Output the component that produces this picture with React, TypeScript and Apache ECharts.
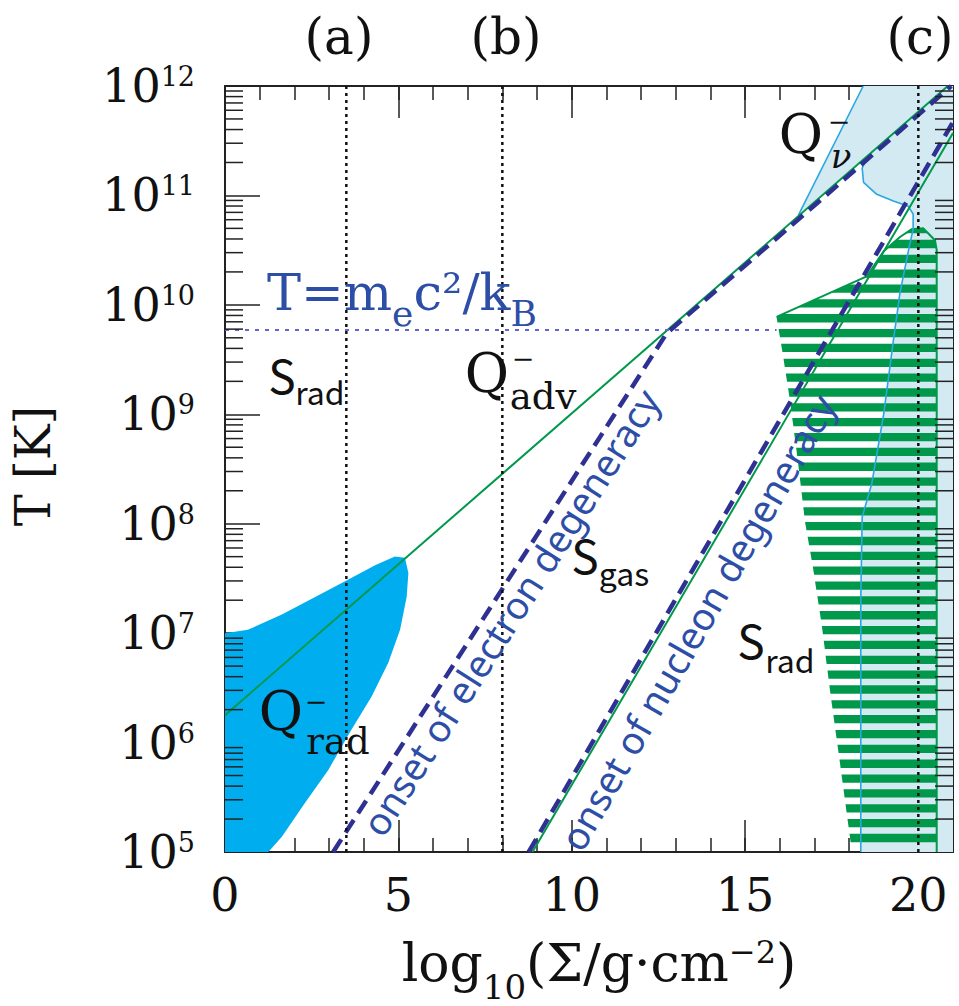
import React, { useEffect, useRef } from 'react';
import * as echarts from 'echarts';

// ---------- data (x = log10 Σ, y = log10 T) ----------
const xMajorTicks = [0, 5, 10, 15, 20];
const yDecades = [5, 6, 7, 8, 9, 10, 11, 12];
const refLinesX = [3.5, 8, 20];
const refLineLabels = ['(a)', '(b)', '(c)'];
const pairTempLog = 9.77; // T = m_e c^2 / k_B
const pairLineEndX = 15.91;

const advLine = [[0, 6.25], [20.85, 12]];
const electronDeg = [[3.12, 5], [12.74, 9.74], [16.5, 10.77], [20.95, 12]];
const nucleonDeg = [[8.76, 5], [21, 11.67]];
const nucleonGreen = [[8.87, 5], [21, 11.57]];

const radRegion = [
  [0, 5], [0, 7.0], [0.66, 7.03], [1.64, 7.17], [2.6, 7.33], [3.56, 7.49], [4.33, 7.62],
  [4.9, 7.7], [5.19, 7.69], [5.29, 7.55], [5.24, 7.33], [5.05, 7.03], [4.71, 6.73],
  [4.23, 6.42], [3.65, 6.12], [2.98, 5.75], [2.31, 5.45], [1.64, 5.14], [1.25, 5.0],
];

const nuUpperEdge = [[16.54, 10.82], [18.41, 12]];
const nuLobeEdge = [
  [18.56, 11.37], [18.38, 11.25], [18.42, 11.12], [18.8, 11.01], [19.28, 10.95], [19.71, 10.9],
  [19.85, 10.83], [19.85, 10.69], [19.75, 10.55], [19.47, 10.11], [19.27, 9.65], [19.0, 9.0],
  [18.66, 8.37], [18.38, 8.06], [18.34, 7.3], [18.34, 5],
];
const nuRegion = [
  [18.41, 12], [16.54, 10.82], [17.5, 11.08], ...nuLobeEdge, [21, 5], [21, 12],
];

const hatchTopEdge = [
  [15.91, 9.89], [18.51, 10.26], [19.0, 10.49], [19.47, 10.62], [19.8, 10.69],
  [20.14, 10.7], [20.48, 10.59], [20.53, 10.5], [20.53, 5],
];
const hatchLeftEdge = [
  [18.08, 5], [18.03, 5.13], [17.74, 5.81], [17.45, 6.48], [17.22, 7.06], [16.96, 7.6],
  [16.73, 8.02], [16.53, 8.56], [16.3, 9.12], [16.1, 9.53],
];
const hatchRegion = [...hatchTopEdge, ...hatchLeftEdge];

// ---------- styles ----------
const GREEN = '#00984a';
const NAVY = '#2e3192';
const CYAN_FILL = '#00aeef';
const LIGHT_FILL = '#d3eaf3';
const CYAN_LINE = '#29a7e0';
const BLUE_TEXT = '#2d4ea6';
const AXIS = '#222';
const SERIF = '"DejaVu Serif", serif';
const SANS_JP = '"Noto Sans CJK JP", "Noto Sans", sans-serif';
const STRIPE_START = 5.128;
const STRIPE_STEP = 0.1357;
const STRIPE_HALF = 0.038;

function clipHalf(poly: number[][], lim: number, keepAbove: boolean) {
  const out: number[][] = [];
  for (let i = 0; i < poly.length; i++) {
    const a = poly[i];
    const b = poly[(i + 1) % poly.length];
    const ina = keepAbove ? a[1] >= lim : a[1] <= lim;
    const inb = keepAbove ? b[1] >= lim : b[1] <= lim;
    if (ina) out.push(a);
    if (ina !== inb) {
      const t = (lim - a[1]) / (b[1] - a[1]);
      out.push([a[0] + t * (b[0] - a[0]), lim]);
    }
  }
  return out;
}

function polygonSeries(name: string, pts: number[][], fill: string, z: number) {
  return {
    type: 'custom', name, z, silent: true, clip: true,
    data: pts,
    renderItem: (params: any, api: any) =>
      params.dataIndex === 0
        ? { type: 'polygon', shape: { points: pts.map((p) => api.coord(p)) }, style: { fill } }
        : null,
  };
}

function lineSeries(name: string, pts: number[][], color: string, width: number, type: any, z: number) {
  return {
    type: 'line', name, data: pts, showSymbol: false, symbol: 'none', silent: true, z,
    lineStyle: { color, width, type, cap: 'butt' },
  };
}

const yMinor: number[][] = [];
for (let n = 5; n < 12; n++) for (let k = 2; k <= 9; k++) yMinor.push([0, n + Math.log10(k)]);

function txt(x: number, y: number, text: string, fontSize: number, fontFamily: string, fill = '#111', extra: any = {}) {
  const { rotation, ...style } = extra;
  return {
    type: 'text', x, y, z: 100, silent: true, rotation: rotation || 0,
    style: { text, fontSize, fontFamily, fill, align: 'center', verticalAlign: 'middle', ...style },
  };
}
const minus = (x: number, y: number) => txt(x, y, '−', 27, SERIF, '#111', { lineHeight: 12 });

export default function App() {
  const ref = useRef<HTMLDivElement>(null);
  useEffect(() => {
    if (!ref.current) return;
    const chart = echarts.init(ref.current, undefined, { renderer: 'svg' });
    const tick = (len: number) => ({ show: true, inside: true, length: len, lineStyle: { color: AXIS, width: 1.5 } });
    const axisLine = { show: true, onZero: false, lineStyle: { color: AXIS, width: 2 } };
    const noLabel = { show: false };
    const noSplit = { show: false };

    const series: any[] = [
      polygonSeries('Q_nu region', nuRegion, LIGHT_FILL, 1),
      {
        type: 'custom', name: 'S_rad hatch', z: 2, silent: true, clip: true,
        data: hatchRegion,
        renderItem: (params: any, api: any) => {
          if (params.dataIndex !== 0) return null;
          const children: any[] = [];
          for (let c = STRIPE_START; c < 12; c += STRIPE_STEP) {
            let band = clipHalf(hatchRegion, c - STRIPE_HALF, true);
            band = clipHalf(band, c + STRIPE_HALF, false);
            if (band.length >= 3) {
              children.push({ type: 'polygon', shape: { points: band.map((p) => api.coord(p)) }, style: { fill: GREEN } });
            }
          }
          return { type: 'group', children };
        },
      },
      lineSeries('hatch outline', hatchTopEdge, GREEN, 2, 'solid', 3),
      polygonSeries('Q_rad region', radRegion, CYAN_FILL, 3),
      lineSeries('Q_nu upper edge', nuUpperEdge, CYAN_LINE, 1.6, 'solid', 4),
      lineSeries('Q_nu lobe edge', nuLobeEdge, CYAN_LINE, 1.6, 'solid', 4),
      lineSeries('adv line', advLine, GREEN, 2, 'solid', 5),
      lineSeries('nucleon green', nucleonGreen, GREEN, 2, 'solid', 5),
      lineSeries('electron degeneracy', electronDeg, NAVY, 4.5, [15, 8], 6),
      lineSeries('nucleon degeneracy', nucleonDeg, NAVY, 4.5, [15, 8], 6),
      lineSeries('pair line', [[0, pairTempLog], [pairLineEndX, pairTempLog]], '#6466d2', 2, [4, 6], 6),
      ...refLinesX.map((x) => lineSeries('ref ' + x, [[x, 5], [x, 12]], '#111', 2.5, [3, 4], 7)),
      {
        type: 'custom', name: 'minor y ticks', z: 8, silent: true, clip: false,
        data: yMinor,
        renderItem: (params: any, api: any) => {
          const p = api.coord([0, api.value(1)]);
          const cs = params.coordSys;
          const l = cs.x, r = cs.x + cs.width;
          return {
            type: 'group', children: [
              { type: 'line', shape: { x1: l, y1: p[1], x2: l + 18, y2: p[1] }, style: { stroke: AXIS, lineWidth: 1.5 } },
              { type: 'line', shape: { x1: r - 18, y1: p[1], x2: r, y2: p[1] }, style: { stroke: AXIS, lineWidth: 1.5 } },
            ],
          };
        },
      },
    ];

    const graphic: any[] = [
      ...refLineLabels.map((t, i) => txt([339, 506, 920][i], 37, t, 50, SERIF)),
      // Q_nu
      txt(801, 134, 'Q', 54, SERIF),
      minus(839, 121),
      txt(841, 156, 'ν', 34, SERIF, '#111', { fontStyle: 'italic' }),
      // Q_adv
      txt(487, 373, 'Q', 54, SERIF),
      minus(523, 358),
      txt(543, 396, 'adv', 37, SERIF),
      // Q_rad
      txt(281, 711, 'Q', 54, SERIF),
      minus(316, 701),
      txt(338, 741, 'rad', 37, SERIF),
      // S labels
      txt(282, 374, 'S', 46, SANS_JP),
      txt(320, 391, 'rad', 32, SANS_JP),
      txt(585, 554, 'S', 46, SANS_JP),
      txt(624, 572, 'gas', 32, SANS_JP),
      txt(751, 639, 'S', 46, SANS_JP),
      txt(790, 659, 'rad', 32, SANS_JP),
      // T = m_e c^2 / k_B
      {
        type: 'text', x: 267, y: 292, z: 100, silent: true,
        style: {
          text: '{m|T=m}{s|e}{m|c²/k}{s|B}', align: 'left', verticalAlign: 'middle',
          rich: {
            m: { fontFamily: SERIF, fontSize: 51, fill: BLUE_TEXT, lineHeight: 50 },
            s: { fontFamily: SERIF, fontSize: 36, fill: BLUE_TEXT, lineHeight: 36, verticalAlign: 'bottom', padding: [0, 0, -14, 0] },
          },
        },
      },
      // degeneracy labels
      txt(510, 612, 'onset of electron degeneracy', 38, '"Noto Sans", sans-serif', BLUE_TEXT, { rotation: (57.6 * Math.PI) / 180 }),
      txt(697, 622, 'onset of nucleon degeneracy', 38, '"Noto Sans", sans-serif', BLUE_TEXT, { rotation: (60.3 * Math.PI) / 180 }),
      // axis titles
      txt(33, 466, 'T [K]', 48, SERIF, '#111', { rotation: Math.PI / 2 }),
      {
        type: 'text', x: 599, y: 963, z: 100, silent: true,
        style: {
          text: '{m|log}{sub|10}{m|(Σ/g·cm}{sup|−2}{m|)}', align: 'center', verticalAlign: 'middle',
          rich: {
            m: { fontFamily: SERIF, fontSize: 52, fill: '#111', lineHeight: 54 },
            sub: { fontFamily: SERIF, fontSize: 34, fill: '#111', lineHeight: 34, verticalAlign: 'bottom', padding: [0, 0, -14, 0] },
            sup: { fontFamily: SERIF, fontSize: 32, fill: '#111', lineHeight: 32, verticalAlign: 'top' },
          },
        },
      },
    ];

    chart.setOption({
      animation: false,
      backgroundColor: '#fff',
      grid: { left: 225, top: 86, width: 728, height: 766, containLabel: false },
      xAxis: [
        {
          type: 'value', position: 'bottom', min: 0, max: 21, interval: 1, axisLine, axisTick: tick(14), splitLine: noSplit,
          axisLabel: {
            formatter: (v: number) => (xMajorTicks.indexOf(v) >= 0 ? String(v) : ''),
            fontFamily: SERIF, fontSize: 46, color: '#111', margin: 20, showMaxLabel: false,
          },
        },
        { type: 'value', position: 'bottom', min: 0, max: 21, interval: 5, axisLine: { show: false }, axisTick: tick(32), axisLabel: noLabel, splitLine: noSplit },
        { type: 'value', position: 'top', min: 0, max: 21, interval: 1, axisLine, axisTick: tick(14), axisLabel: noLabel, splitLine: noSplit },
        { type: 'value', position: 'top', min: 0, max: 21, interval: 5, axisLine: { show: false }, axisTick: tick(32), axisLabel: noLabel, splitLine: noSplit },
      ],
      yAxis: [
        {
          type: 'value', position: 'left', min: yDecades[0], max: yDecades[yDecades.length - 1], interval: 1,
          axisLine, axisTick: tick(35), splitLine: noSplit,
          axisLabel: {
            formatter: (v: number) => `{b|10}{s|${v}}`, margin: 30,
            rich: {
              b: { fontFamily: SERIF, fontSize: 46, color: '#111', lineHeight: 46 },
              s: { fontFamily: SERIF, fontSize: 27, color: '#111', lineHeight: 27, verticalAlign: 'top' },
            },
          },
        },
        { type: 'value', position: 'right', min: 5, max: 12, interval: 1, axisLine, axisTick: tick(35), axisLabel: noLabel, splitLine: noSplit },
      ],
      series,
      graphic,
    });
    return () => chart.dispose();
  }, []);
  return <div ref={ref} style={{ position: 'absolute', left: 0, top: 0, width: 959, height: 1006 }} />;
}
